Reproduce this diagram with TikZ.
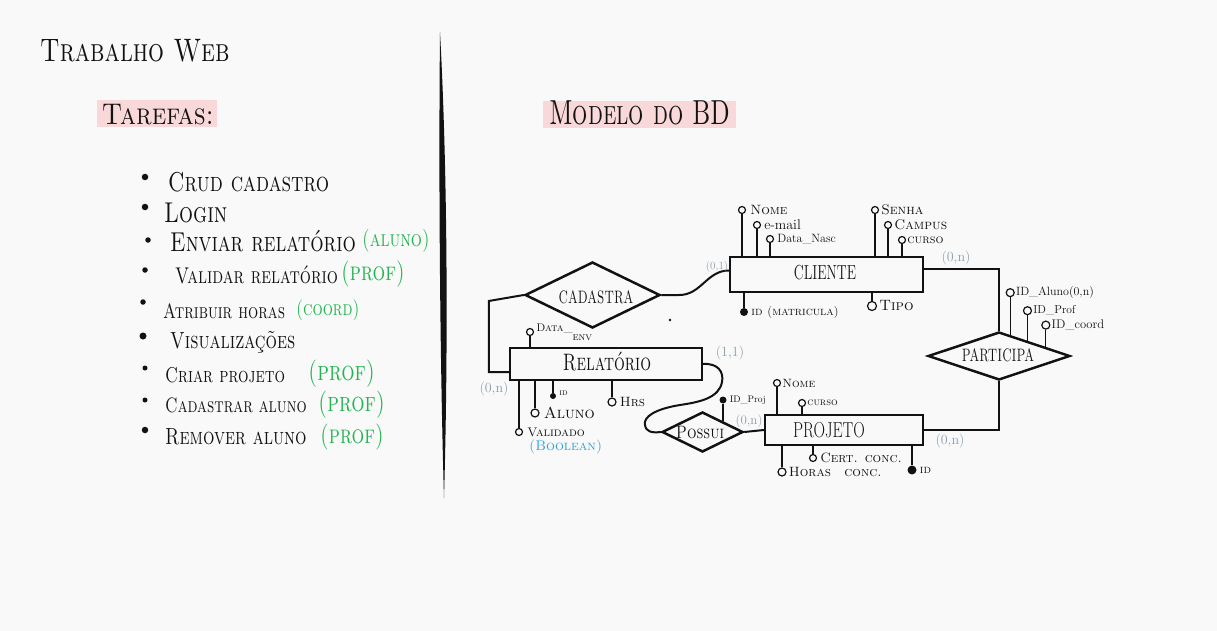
\documentclass[tikz,border=0pt]{standalone}
\usepackage{fontspec}
\usepackage{graphicx}
\usetikzlibrary{calc,shapes.geometric}
\definecolor{bg}{RGB}{249,249,249}
\definecolor{hl}{RGB}{248,216,216}
\definecolor{grn}{RGB}{34,180,80}
\definecolor{card}{RGB}{140,158,172}
\definecolor{blu}{RGB}{40,160,225}
\definecolor{ink}{RGB}{18,18,18}
\newcommand{\fs}[1]{\fontsize{#1}{#1}\selectfont}
\newcommand{\tall}[2][1.3]{\scalebox{1}[#1]{#2}}
\begin{document}
\begin{tikzpicture}[x=1pt,y=-1pt,
  title/.style={font=\scshape\fs{25},anchor=west,inner sep=0,text=ink},
  head/.style={font=\scshape\fs{24},inner sep=0,text=ink},
  item/.style={font=\scshape\fs{16},anchor=west,inner sep=0,text=ink},
  role/.style={item,text=grn},
  bul/.style={circle,fill=ink,inner sep=0,minimum size=6.5pt},
  ent/.style={draw=ink,line width=2.3pt,inner sep=0},
  elab/.style={font=\fs{14},text=ink,inner sep=0},
  rel/.style={diamond,draw=ink,line width=2.5pt,inner sep=0},
  rlab/.style={font=\scshape\fs{12},inner sep=0,text=ink},
  attr/.style={circle,draw=ink,line width=1.2pt,fill=bg,inner sep=0,minimum size=7pt},
  key/.style={circle,fill=ink,inner sep=0,minimum size=8pt},
  alab/.style={font=\scshape\fs{12},anchor=west,inner sep=0,text=ink},
  card/.style={font=\fs{14},text=card,inner sep=0},
  conn/.style={draw=ink,line width=2pt},
  aline/.style={draw=ink,line width=1.2pt}]
\fill[bg] (0,0) rectangle (1217,631);
\useasboundingbox (0,0) rectangle (1217,631);

% ---------- left panel ----------
\node[title] (ttl) at (40,51) {\tall[1.3]{Trabalho Web}};
\fill[hl] (97,100) rectangle (217,127);
\node[head,font=\scshape\fs{26}] (taref) at (158,115) {\tall[1.15]{Tarefas:}};

\node[bul] (b1) at (145,177) {};
\node[item,font=\scshape\fs{21}] (t1) at (168,182) {\tall{Crud cadastro}};
\node[bul] (b2) at (145,207) {};
\node[item,font=\scshape\fs{22}] (t2) at (164,213) {\tall{Login}};
\node[bul,minimum size=5.5pt] (b3) at (148,240) {};
\node[item,font=\scshape\fs{21}] (t3) at (170,241) {\tall{Enviar relatório}};
\node[role,font=\scshape\fs{17.5}] (g3) at (362,241) {\tall{(aluno)}};
\node[bul,minimum size=5.5pt] (b4) at (145,270) {};
\node[item,font=\scshape\fs{17.5}] (t4) at (175,275) {\tall{Validar relatório}};
\node[role,font=\scshape\fs{20}] (g4) at (341,274) {\tall{(prof)}};
\node[bul,minimum size=5.5pt] (b5) at (143,302) {};
\node[item] (t5) at (163,311) {\tall{Atribuir horas}};
\node[role] (g5) at (296,310) {\tall{(coord)}};
\node[bul,minimum size=7pt] (b6) at (143,336) {};
\node[item,font=\scshape\fs{18}] (t6) at (170,342) {\tall{Visualizações}};
\node[bul,minimum size=5pt] (b7) at (145,368) {};
\node[item,font=\scshape\fs{16.5}] (t7) at (165,375) {\tall{Criar projeto}};
\node[role,font=\scshape\fs{21}] (g7) at (308,374) {\tall{(prof)}};
\node[bul,minimum size=5pt] (b8) at (145,400) {};
\node[item] (t8) at (165,405) {\tall{Cadastrar aluno}};
\node[role,font=\scshape\fs{21}] (g8) at (318,405) {\tall{(prof)}};
\node[bul] (b9) at (145,430) {};
\node[item,font=\scshape\fs{18}] (t9) at (165,437) {\tall{Remover aluno}};
\node[role,font=\scshape\fs{20}] (g9) at (320,437) {\tall{(prof)}};

% divider
\fill[ink] (440,32) .. controls (448,180) and (448,360) .. (444,498)
  .. controls (440,360) and (438.5,180) .. (440,32) -- cycle;

% ---------- right panel ----------
\fill[hl] (543,101) rectangle (736,128);
\node[head] (mod) at (640,113) {\tall[1.45]{Modelo do BD}};

% entities
\node[ent,minimum width=193pt,minimum height=35pt] (cli) at (826.5,274.5) {};
\node[elab] (clil) at (825,273) {\tall[1.45]{CLIENTE}};
\node[ent,minimum width=192pt,minimum height=32pt] (rel) at (606,364) {};
\node[elab,font=\scshape\fs{17}] (rell) at (607,362) {\tall[1.4]{Relatório}};
\node[ent,minimum width=158pt,minimum height=30pt] (proj) at (844,430) {};
\node[elab,font=\fs{16}] (projl) at (829,430) {\tall[1.35]{PROJETO}};

% relationships
\node[rel,minimum width=135pt,minimum height=66pt] (cad) at (592.5,295) {};
\node[rlab] (cadl) at (596,297) {\tall[1.5]{CADASTRA}};
\node[rel,minimum width=142pt,minimum height=48pt] (par) at (999,356) {};
\node[rlab] (parl) at (998,355) {\tall[1.5]{PARTICIPA}};
\node[rel,minimum width=81pt,minimum height=40pt] (pos) at (702.5,432) {};
\node[rlab,font=\scshape\fs{15}] (posl) at (700,432) {\tall[1.2]{Possui}};

% connectors
\draw[conn] (cad.east) -- ++(18,0) .. controls +(22,0) and +(-22,0) .. ($(cli.west)+(0,-4)$);
\draw[conn] ($(cli.east)+(0,-6)$) -| (par.north);
\draw[conn] (par.south) |- (proj.east);
\draw[conn] (cad.west) -- ++(-35,6) |- ($(rel.west)+(0,8)$);
\draw[conn] (rel.east) .. controls (718,363) and (724,372) .. (722,382)
  .. controls (719,398) and (700,402) .. (680,405)
  .. controls (655,409) and (643,417) .. (645,425)
  .. controls (646,432) and (652,433) .. (pos.west);
\draw[conn] (pos.east) -- (proj.west);

% cardinalities
\node[card,font=\fs{11}] (c1) at (717,267) {(0,1)};
\node[card] (c2) at (956,258) {(0,n)};
\node[card] (c3) at (494,389) {(0,n)};
\node[card] (c4) at (730,353) {(1,1)};
\node[card,font=\fs{13}] (c5) at (749,421) {(0,n)};
\node[card] (c6) at (950,441) {(0,n)};

% CLIENTE attributes
\node[attr] (ca1) at (742,210) {};
\node[alab,font=\scshape\fs{13.5}] at ([xshift=4pt]ca1.east) {Nome};
\draw[aline] (ca1) -- (ca1 |- cli.north);
\node[attr] (ca2) at (757,225) {};
\node[alab,font=\fs{14}] at ([xshift=3pt]ca2.east) {e-mail};
\draw[aline] (ca2) -- (ca2 |- cli.north);
\node[attr] (ca3) at (770,239) {};
\node[alab,font=\fs{12}] at ([xshift=3pt]ca3.east) {Data\_Nasc};
\draw[aline] (ca3) -- (ca3 |- cli.north);
\node[attr] (ca4) at (875,210) {};
\node[alab,font=\scshape\fs{14}] at ([xshift=2pt]ca4.east) {Senha};
\draw[aline] (ca4) -- (ca4 |- cli.north);
\node[attr] (ca5) at (888,225) {};
\node[alab,font=\scshape\fs{14}] at ([xshift=2pt]ca5.east) {Campus};
\draw[aline] (ca5) -- (ca5 |- cli.north);
\node[attr] (ca6) at (902,240) {};
\node[alab,font=\scshape\fs{12.5}] at ([xshift=1pt]ca6.east) {curso};
\draw[aline] (ca6) -- (ca6 |- cli.north);
\node[key] (ca7) at (744,312) {};
\node[alab,font=\scshape\fs{12}] at ([xshift=3pt]ca7.east) {id (matricula)};
\draw[aline] (ca7) -- (ca7 |- cli.south);
\node[attr,minimum size=9pt] (ca8) at (872,306) {};
\node[alab,font=\scshape\fs{15}] at ([xshift=2pt]ca8.east) {Tipo};
\draw[aline] (ca8) -- (ca8 |- cli.south);

% RELATORIO attributes
\node[attr] (ra1) at (530,332) {};
\node[alab,font=\scshape\fs{11}] at ([xshift=2pt]ra1.east) {Data\_\raisebox{-9pt}{env}};
\draw[aline] (ra1) -- (ra1 |- rel.north);
\node[attr] (ra2) at (519,432) {};
\node[alab,font=\scshape\fs{12.5}] at ([xshift=4pt]ra2.east) {Validado};
\node[alab,font=\scshape\fs{14},text=blu] (ra2b) at (529,447) {(Boolean)};
\draw[aline] (ra2) -- (ra2 |- rel.south);
\node[attr,minimum size=8pt] (ra3) at (535,413) {};
\node[alab,font=\scshape\fs{16}] at ([xshift=4pt]ra3.east) {Aluno};
\draw[aline] (ra3) -- (ra3 |- rel.south);
\node[key,minimum size=6pt] (ra4) at (553,396) {};
\node[alab,font=\scshape\fs{9}] at ([xshift=3pt,yshift=3pt]ra4.east) {id};
\draw[aline] (ra4) -- (ra4 |- rel.south);
\node[attr,minimum size=8pt] (ra5) at (612,402) {};
\node[alab,font=\scshape\fs{13.5}] at ([xshift=3pt]ra5.east) {Hrs};
\draw[aline] (ra5) -- (ra5 |- rel.south);

% POSSUI attribute
\node[key,minimum size=7pt] (pa0) at (723,400) {};
\node[alab,font=\fs{9.5}] at ([xshift=3pt]pa0.east) {ID\_Proj};
\draw[aline] (pa0) -- (pa0 |- pos.north east);

% PROJETO attributes
\node[attr] (pj1) at (777,383) {};
\node[alab,font=\scshape\fs{12}] at ([xshift=1pt]pj1.east) {Nome};
\draw[aline] (pj1) -- (pj1 |- proj.north);
\node[attr] (pj2) at (802,403) {};
\node[alab,font=\scshape\fs{10.5}] at ([xshift=1pt]pj2.east) {curso};
\draw[aline] (pj2) -- (pj2 |- proj.north);
\node[attr,minimum size=8pt] (pj3) at (782,472) {};
\node[alab,font=\scshape\fs{13.5}] at ([xshift=2pt]pj3.east) {Horas\quad conc.};
\draw[aline] (pj3) -- (pj3 |- proj.south);
\node[attr] (pj4) at (813,458) {};
\node[alab,font=\scshape\fs{13.5}] at ([xshift=3pt]pj4.east) {Cert. conc.};
\draw[aline] (pj4) -- (pj4 |- proj.south);
\node[key,minimum size=9pt] (pj5) at (912,470) {};
\node[alab,font=\scshape\fs{12}] at ([xshift=3pt]pj5.east) {id};
\draw[aline] (pj5) -- (pj5 |- proj.south);

% PARTICIPA attributes
\coordinate (pe1) at ($(par.north)!0.155!(par.east)$);
\coordinate (pe2) at ($(par.north)!0.394!(par.east)$);
\coordinate (pe3) at ($(par.north)!0.648!(par.east)$);
\node[attr,minimum size=8pt] (pp1) at ($(pe1)+(0,-42)$) {};
\node[alab,font=\fs{12}] at ([xshift=1pt]pp1.east) {ID\_Aluno(0,n)};
\draw[aline] (pp1) -- (pe1);
\node[attr,minimum size=8pt] (pp2) at ($(pe2)+(0,-30)$) {};
\node[alab,font=\fs{11.5}] at ([xshift=1pt]pp2.east) {ID\_Prof};
\draw[aline] (pp2) -- (pe2);
\node[attr,minimum size=8pt] (pp3) at ($(pe3)+(0,-22)$) {};
\node[alab,font=\fs{12.5}] at ([xshift=1pt]pp3.east) {ID\_coord};
\draw[aline] (pp3) -- (pe3);

% stray mark
\fill[ink] (670,320) circle (1.3);
\end{tikzpicture}
\end{document}
